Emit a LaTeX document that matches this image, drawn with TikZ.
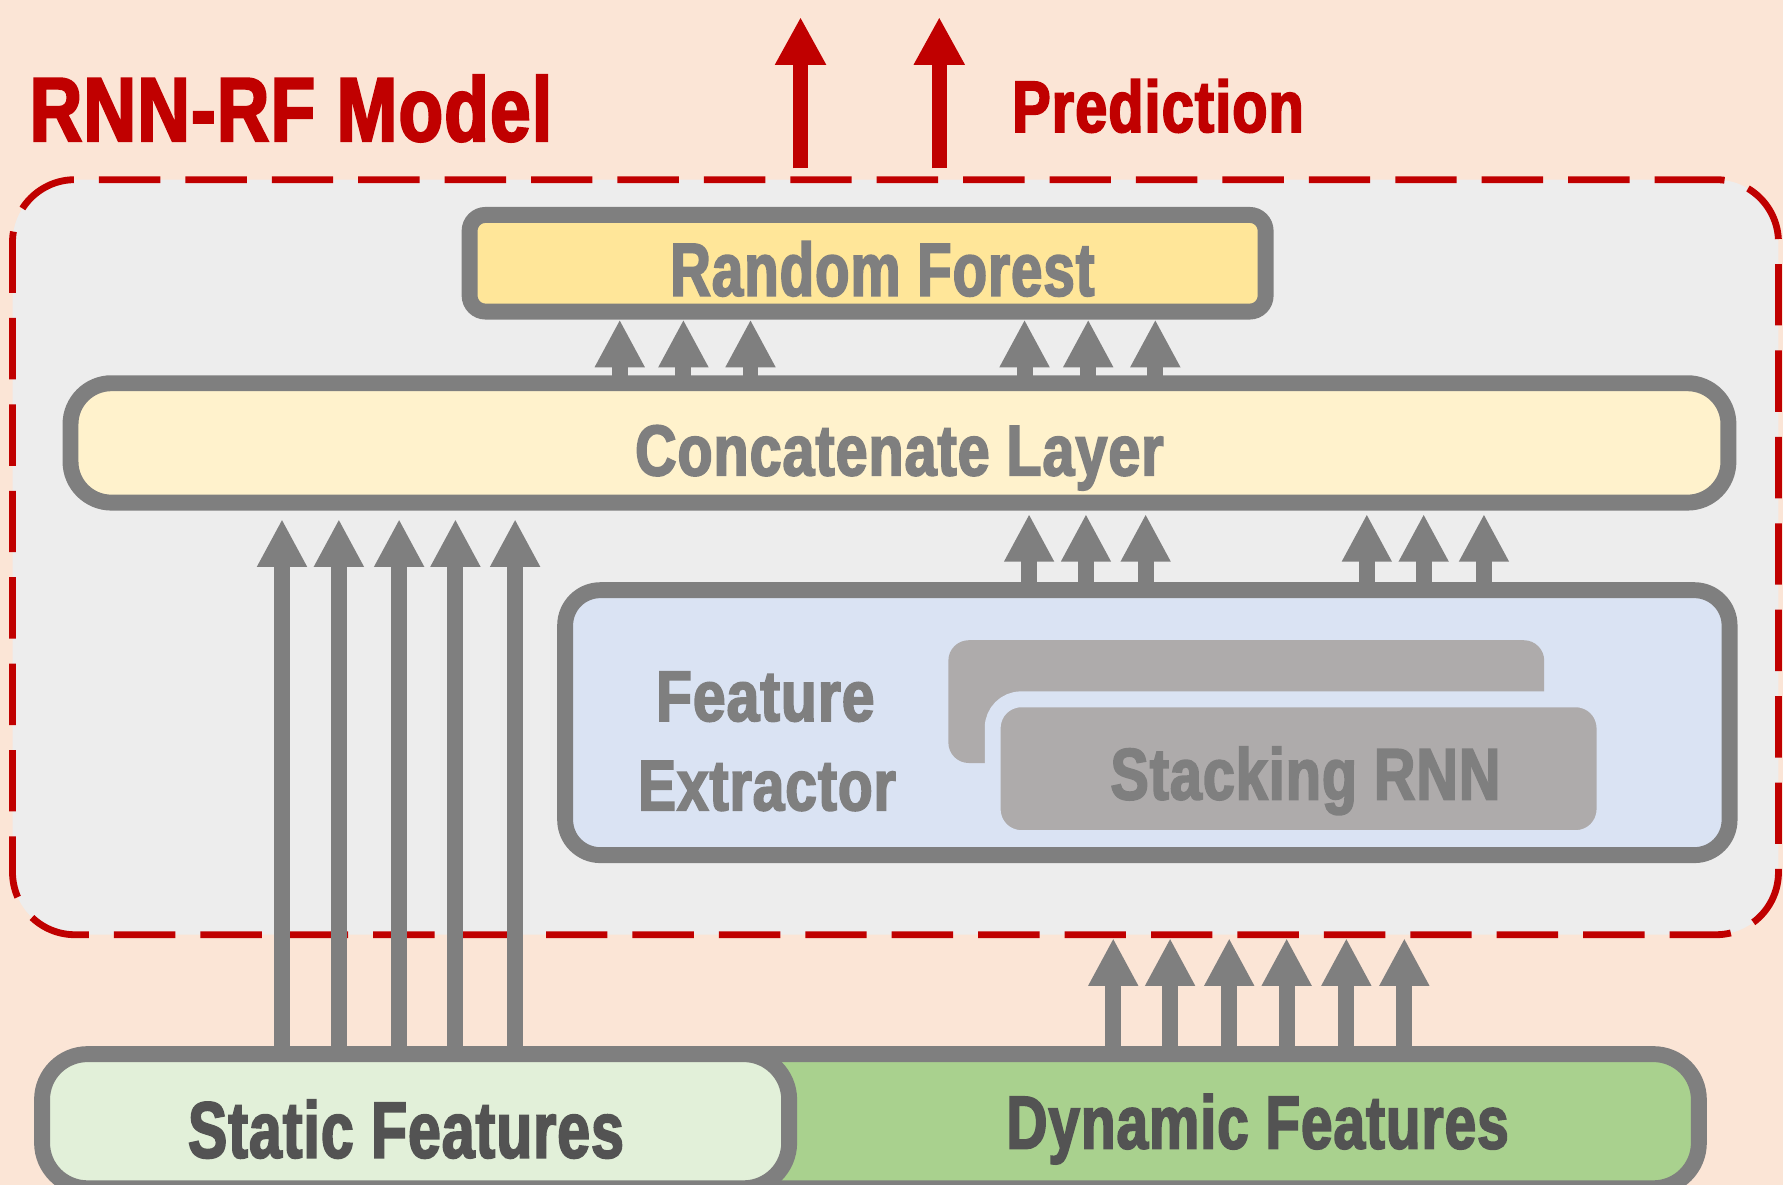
\documentclass[tikz,border=0pt]{standalone}
\usepackage{fontspec}
\setmainfont{Liberation Sans}[FakeStretch=0.76, FakeBold=2.5, LetterSpace=1.5]
\usetikzlibrary{arrows.meta}
\definecolor{peach}{HTML}{FBE5D6}
\definecolor{innerc}{HTML}{EDEDED}
\definecolor{redc}{HTML}{C00000}
\definecolor{grc}{HTML}{7F7F7F}
\definecolor{darktxt}{HTML}{535353}
\definecolor{rfc}{HTML}{FFE699}
\definecolor{catc}{HTML}{FFF2CC}
\definecolor{fec}{HTML}{DAE3F3}
\definecolor{stackc}{HTML}{AEABAB}
\definecolor{statc}{HTML}{E2F0D9}
\definecolor{dync}{HTML}{A9D18E}
\newcommand\fsz[1]{\bfseries\fontsize{#1}{#1}\selectfont}
\newcommand\hsc[2]{\scalebox{#1}[1]{#2}}
\begin{document}
\begin{tikzpicture}[x=1pt,y=-1pt,
  box/.style={draw=grc, line width=14pt, inner sep=0pt},
  txt/.style={inner sep=0pt, anchor=base},
  garrow/.style={draw=grc, line width=14pt, -{Triangle[length=42pt,width=41pt]}, shorten <=-4pt},
  rarrow/.style={draw=redc, line width=13pt, -{Triangle[length=42pt,width=42pt]}}]
\useasboundingbox (0,0) rectangle (1568,1042);
\fill[peach] (0,0) rectangle (1568,1042);

% outer dashed model box
\node[draw=redc, line width=6pt, dash pattern=on 54pt off 22pt, fill=innerc,
      rounded corners=55pt, minimum width=1553pt, minimum height=664pt, inner sep=0pt]
      (outer) at (787.5,490) {};

% boxes
\node[box, fill=rfc, rounded corners=14pt, minimum width=700pt, minimum height=85pt] (rf) at (763,231.5) {};
\node[box, fill=catc, rounded corners=36pt, minimum width=1458pt, minimum height=105pt] (cat) at (791,389.5) {};
\node[box, fill=fec, rounded corners=31pt, minimum width=1024pt, minimum height=233pt] (fe) at (1009,635.5) {};
\node[fill=stackc, rounded corners=18pt, minimum width=524pt, minimum height=108pt, inner sep=0pt] (stb) at (1096,617) {};
\node[draw=fec, fill=stackc, line width=14pt, rounded corners=25pt, minimum width=538pt, minimum height=122pt, inner sep=0pt] (stf) at (1142,676) {};
\node[box, fill=dync, rounded corners=40pt, minimum width=994pt, minimum height=118pt] (dyn) at (997,986) {};
\node[box, fill=statc, rounded corners=40pt, minimum width=657pt, minimum height=118pt] (stat) at (365.5,986) {};

% texts
\node[txt, anchor=base west, text=redc, font=\fsz{80}] (title) at (26,124) {\hsc{1.05}{RNN-RF Model}};
\node[txt, anchor=base west, text=redc, font=\fsz{64}] (pred) at (890,116) {\hsc{1.04}{Prediction}};
\node[txt, text=grc, font=\fsz{66}] (rft) at (776,260) {\hsc{0.985}{Random Forest}};
\node[txt, text=grc, font=\fsz{63}] (catt) at (791,418) {\hsc{1.05}{Concatenate Layer}};
\node[txt, text=grc, font=\fsz{63}] (fet1) at (673,634) {\hsc{1.075}{Feature}};
\node[txt, text=grc, font=\fsz{63}] (fet2) at (674.5,712.5) {\hsc{1.04}{Extractor}};
\node[txt, text=grc, font=\fsz{64}] (stt) at (1148,703) {\hsc{1.035}{Stacking RNN}};
\node[txt, text=darktxt, font=\fsz{70}] (statt) at (357,1018) {\hsc{0.97}{Static Features}};
\node[txt, text=darktxt, font=\fsz{66}] (dynt) at (1106,1010) {\hsc{0.99}{Dynamic Features}};

% arrows concat -> random forest
\foreach \x [count=\i] in {545,601,660,901,957,1016} {
  \coordinate (r\i) at (\x,0);
  \draw[garrow] (cat.north -| r\i) -- (rf.south -| r\i);
}
% arrows feature extractor -> concat
\foreach \x [count=\i] in {905,955,1007.5,1202,1252,1305} {
  \coordinate (f\i) at (\x,0);
  \draw[garrow, shorten >=3pt] (fe.north -| f\i) -- (cat.south -| f\i);
}
% arrows static -> concat
\foreach \x [count=\i] in {248,298,351,400.5,453} {
  \coordinate (s\i) at (\x,0);
  \draw[garrow, shorten >=7.5pt] (stat.north -| s\i) -- (cat.south -| s\i);
}
% arrows dynamic -> model
\foreach \x [count=\i] in {979,1029,1081,1131.5,1184,1235} {
  \coordinate (d\i) at (\x,0);
  \draw[garrow] (dyn.north -| d\i) -- (outer.south -| d\i);
}
% prediction arrows
\coordinate (p1) at (704,15);
\coordinate (p2) at (826,15);
\draw[rarrow, shorten <=7pt] (outer.north -| p1) -- (p1);
\draw[rarrow, shorten <=7pt] (outer.north -| p2) -- (p2);
\end{tikzpicture}
\end{document}
